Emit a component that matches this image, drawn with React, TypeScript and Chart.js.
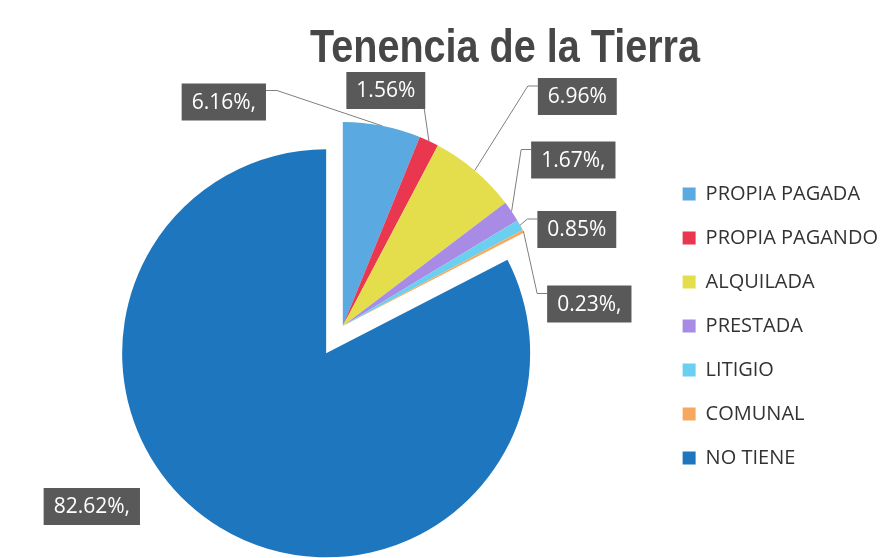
import React, { useEffect, useRef } from 'react';
import { Chart, registerables } from 'chart.js';

Chart.register(...registerables);

// ---- data ----
const CATEGORIES = [
  'PROPIA PAGADA',
  'PROPIA PAGANDO',
  'ALQUILADA',
  'PRESTADA',
  'LITIGIO',
  'COMUNAL',
  'NO TIENE',
];
const VALUES = [6.16, 1.56, 6.96, 1.67, 0.85, 0.23, 82.62];
const LABEL_SUFFIX = [',', '', '', ',', '', ',', ','];
const TITLE = 'Tenencia de la Tierra';

// ---- styling / layout ----
const COLORS = ['#5BA9E1', '#E8374F', '#E4DE4C', '#A88BE5', '#6BCFEF', '#F6A95E', '#1E76BE'];
const EXPLODE = [0, 0, 0, 0, 0, 0, 32];
const LABEL_OFFSETS: [number, number][] = [
  [-119, -224],
  [43, -235.5],
  [234.5, -229.5],
  [230.5, -166],
  [234, -96.5],
  [246.5, -22],
  [-251, 180.5],
];
const LABEL_LEADER = [true, true, true, true, true, true, false];
const TITLE_CENTER_X = 505;
const TITLE_BASELINE_Y = 62;
const TITLE_WIDTH = 390;

const explodePlugin = {
  id: 'explodeSlices',
  afterDatasetsUpdate(chart: any) {
    const meta = chart.getDatasetMeta(0);
    meta.data.forEach((arc: any, i: number) => {
      const d = EXPLODE[i] || 0;
      if (!d) return;
      const mid = (arc.startAngle + arc.endAngle) / 2;
      arc.x += Math.cos(mid) * d;
      arc.y += Math.sin(mid) * d;
    });
  },
};

const titlePlugin = {
  id: 'customTitle',
  afterDraw(chart: any) {
    const ctx = chart.ctx;
    ctx.save();
    ctx.font = 'bold 46px "Liberation Sans", Arial, sans-serif';
    ctx.fillStyle = '#474747';
    ctx.textAlign = 'center';
    ctx.textBaseline = 'alphabetic';
    const measured = ctx.measureText(TITLE).width;
    const sx = Math.min(1, TITLE_WIDTH / measured);
    ctx.translate(TITLE_CENTER_X, TITLE_BASELINE_Y);
    ctx.scale(sx, 1);
    ctx.fillText(TITLE, 0, 0);
    ctx.restore();
  },
};

const labelPlugin = {
  id: 'sliceLabels',
  afterDatasetsDraw(chart: any) {
    const ctx = chart.ctx;
    const area = chart.chartArea;
    const cx = (area.left + area.right) / 2;
    const cy = (area.top + area.bottom) / 2;
    const meta = chart.getDatasetMeta(0);
    ctx.save();
    ctx.font = '21px "Open Sans", sans-serif';
    meta.data.forEach((arc: any, i: number) => {
      const mid = (arc.startAngle + arc.endAngle) / 2;
      const px = arc.x + Math.cos(mid) * arc.outerRadius;
      const py = arc.y + Math.sin(mid) * arc.outerRadius;
      const text = VALUES[i].toFixed(2) + '%' + LABEL_SUFFIX[i];
      const w = ctx.measureText(text).width + 20;
      const h = 37;
      const bx = cx + LABEL_OFFSETS[i][0] - w / 2;
      const by = cy + LABEL_OFFSETS[i][1] - h / 2;
      if (LABEL_LEADER[i]) {
        ctx.strokeStyle = '#7f7f7f';
        ctx.lineWidth = 1;
        ctx.beginPath();
        ctx.moveTo(px, py);
        if (bx > px + 4) {
          const ay = by + 8;
          ctx.lineTo(bx - 10, ay);
          ctx.lineTo(bx, ay);
        } else if (bx + w < px - 4) {
          const ay = by + 7;
          ctx.lineTo(bx + w + 11, ay);
          ctx.lineTo(bx + w, ay);
        } else {
          ctx.lineTo(Math.min(px, bx + w - 1), by + h);
        }
        ctx.stroke();
      }
      ctx.fillStyle = '#595959';
      ctx.fillRect(bx, by, w, h);
      ctx.fillStyle = '#ffffff';
      ctx.textAlign = 'center';
      ctx.textBaseline = 'middle';
      ctx.fillText(text, bx + w / 2, by + h / 2 + 1);
    });
    ctx.restore();
  },
};

export default function App() {
  const canvasRef = useRef<HTMLCanvasElement | null>(null);

  useEffect(() => {
    if (!canvasRef.current) return;
    const chart = new Chart(canvasRef.current, {
      type: 'pie',
      data: {
        labels: CATEGORIES,
        datasets: [
          {
            data: VALUES,
            backgroundColor: COLORS,
            borderWidth: 0,
            clip: false as any,
          },
        ],
      },
      options: {
        responsive: false,
        animation: false,
        events: [],
        radius: 204,
        layout: { padding: { left: 27, right: 6, top: 94, bottom: 0 } },
        plugins: {
          title: { display: false },
          tooltip: { enabled: false },
          legend: {
            display: true,
            position: 'right',
            labels: {
              boxWidth: 13,
              boxHeight: 13,
              padding: 24,
              color: '#333333',
              font: { family: '"Open Sans", sans-serif', size: 20 },
            },
          },
        },
      } as any,
      plugins: [explodePlugin, labelPlugin, titlePlugin],
    });
    return () => chart.destroy();
  }, []);

  return (
    <div style={{ position: 'fixed', left: 0, top: 0, width: 894, height: 558, background: '#ffffff' }}>
      <canvas ref={canvasRef} width={894} height={558} />
    </div>
  );
}
